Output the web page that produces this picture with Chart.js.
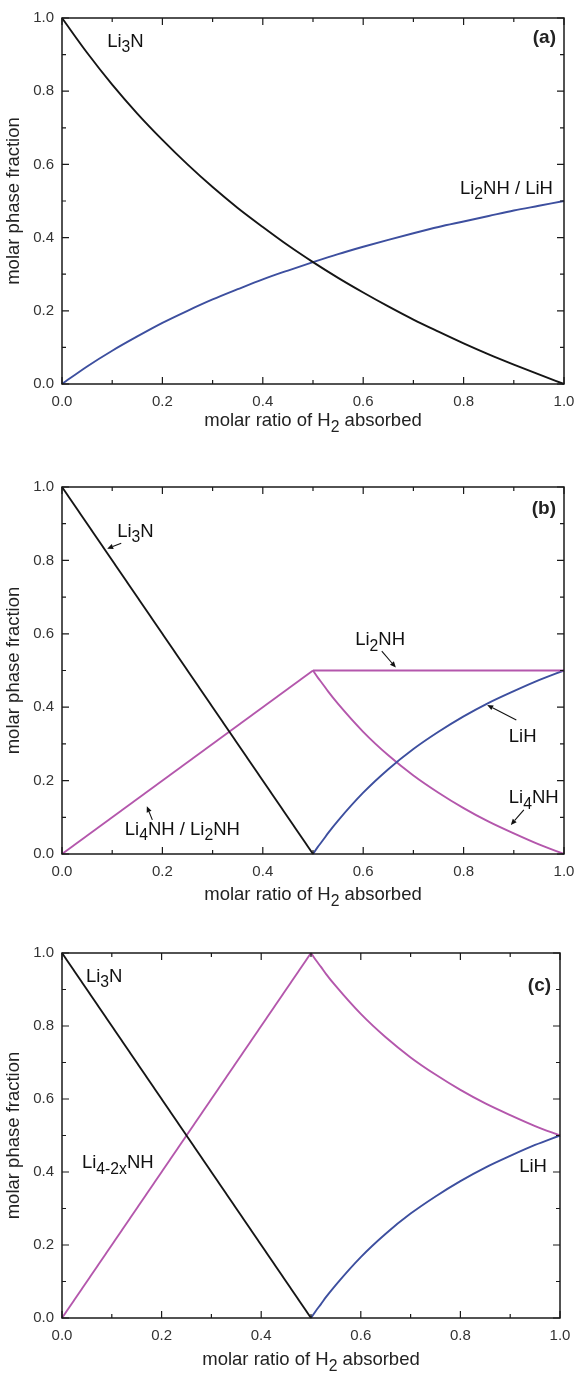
<!DOCTYPE html>
<html><head><meta charset="utf-8">
<script src="https://cdn.jsdelivr.net/npm/chart.js@4.4.1/dist/chart.umd.min.js"></script>
<style>
html,body{margin:0;padding:0;background:#fff;}
body{width:576px;height:1373px;position:relative;overflow:hidden;}
.p{position:absolute;left:0;width:576px;}
canvas{display:block;}
</style></head><body>
<div class="p" style="top:0px;height:450px"><canvas id="ca" width="576" height="450"></canvas></div>
<div class="p" style="top:450px;height:466px"><canvas id="cb" width="576" height="466"></canvas></div>
<div class="p" style="top:916px;height:457px"><canvas id="cc" width="576" height="457"></canvas></div>
<script>
// ---------- tick labels ----------
const xTickVals = [0, 0.2, 0.4, 0.6, 0.8, 1.0];
const xTickLabels = ['0.0', '0.2', '0.4', '0.6', '0.8', '1.0'];
const yTickVals = [0, 0.2, 0.4, 0.6, 0.8, 1.0];
const yTickLabels = ['0.0', '0.2', '0.4', '0.6', '0.8', '1.0'];
const minorTickVals = [0, 0.1, 0.2, 0.3, 0.4, 0.5, 0.6, 0.7, 0.8, 0.9, 1.0];

// ---------- panel (a) ----------
const xA = [0, 0.05, 0.1, 0.15, 0.2, 0.25, 0.3, 0.35, 0.4, 0.45, 0.5, 0.55, 0.6, 0.65, 0.7, 0.75, 0.8, 0.85, 0.9, 0.95, 1.0];
const li3nA = [1.000, 0.905, 0.818, 0.739, 0.667, 0.600, 0.538, 0.481, 0.429, 0.379, 0.333, 0.290, 0.250, 0.212, 0.176, 0.143, 0.111, 0.081, 0.053, 0.026, 0.000];
const li2nhLihA = [0.000, 0.048, 0.091, 0.130, 0.167, 0.200, 0.231, 0.259, 0.286, 0.310, 0.333, 0.355, 0.375, 0.394, 0.412, 0.429, 0.444, 0.459, 0.474, 0.487, 0.500];

// ---------- panel (b) ----------
const xB1 = [0, 0.5];
const li3nB = [1.0, 0.0];
const li4nhLi2nhB = [0.0, 0.5];
const xB2 = [0.5, 1.0];
const li2nhB = [0.5, 0.5];
const xB3 = [0.5, 0.51, 0.52, 0.53, 0.55, 0.6, 0.65, 0.7, 0.75, 0.8, 0.85, 0.9, 0.95, 1.0];
const lihB = [0.000, 0.020, 0.038, 0.057, 0.091, 0.167, 0.231, 0.286, 0.333, 0.375, 0.412, 0.444, 0.474, 0.500];
const li4nhB = [0.500, 0.480, 0.462, 0.443, 0.409, 0.333, 0.269, 0.214, 0.167, 0.125, 0.088, 0.056, 0.026, 0.000];

// ---------- panel (c) ----------
const xC1 = [0, 0.5];
const li3nC = [1.0, 0.0];
const li42xRiseC = [0.0, 1.0];
const xC2 = [0.5, 0.51, 0.52, 0.53, 0.55, 0.6, 0.65, 0.7, 0.75, 0.8, 0.85, 0.9, 0.95, 1.0];
const li42xFallC = [1.000, 0.980, 0.962, 0.943, 0.909, 0.833, 0.769, 0.714, 0.667, 0.625, 0.588, 0.556, 0.526, 0.500];
const lihC = [0.000, 0.020, 0.038, 0.057, 0.091, 0.167, 0.231, 0.286, 0.333, 0.375, 0.412, 0.444, 0.474, 0.500];

// ---------- styles ----------
const FONT = "'Liberation Sans', Arial, Helvetica, sans-serif";
const BLACK = '#151515', BLUE = '#3d4f9f', MAGENTA = '#b457ac';
const TEXT = '#222';

function pts(xs, ys) { return xs.map((x, i) => ({ x: x, y: ys[i] })); }
function ds(xs, ys, color) {
  return { data: pts(xs, ys), borderColor: color, borderWidth: 1.9, pointRadius: 0,
    fill: false, cubicInterpolationMode: 'monotone', clip: 4 };
}

function drawRich(ctx, parts, x, y, size, align, bold) {
  const f = s => (bold ? 'bold ' : '') + s + 'px ' + FONT;
  const SUB = 0.85;
  let w = 0;
  parts.forEach(p => { ctx.font = f(p[1] ? size * SUB : size); w += ctx.measureText(p[0]).width; });
  let cx = align === 'right' ? x - w : align === 'center' ? x - w / 2 : x;
  ctx.textAlign = 'left'; ctx.textBaseline = 'alphabetic';
  parts.forEach(p => {
    const s = p[1] ? size * SUB : size;
    ctx.font = f(s);
    ctx.fillText(p[0], cx, y + (p[1] ? size * 0.3 : 0));
    cx += ctx.measureText(p[0]).width;
  });
}

function drawArrow(ctx, x1, y1, x2, y2) {
  const ang = Math.atan2(y2 - y1, x2 - x1), L = 6, W = 2.6;
  ctx.beginPath(); ctx.moveTo(x1, y1);
  ctx.lineTo(x2 - L * Math.cos(ang), y2 - L * Math.sin(ang)); ctx.stroke();
  ctx.beginPath(); ctx.moveTo(x2, y2);
  ctx.lineTo(x2 - L * Math.cos(ang) + W * Math.sin(ang), y2 - L * Math.sin(ang) - W * Math.cos(ang));
  ctx.lineTo(x2 - L * Math.cos(ang) - W * Math.sin(ang), y2 - L * Math.sin(ang) + W * Math.cos(ang));
  ctx.closePath(); ctx.fill();
}

const framePlugin = {
  id: 'frame',
  afterDraw(chart, args, opts) {
    const { ctx, chartArea: a } = chart;
    const xs = chart.scales.x, ys = chart.scales.y;
    ctx.save();
    ctx.strokeStyle = '#1a1a1a'; ctx.lineWidth = 1.5;
    ctx.strokeRect(a.left, a.top, a.right - a.left, a.bottom - a.top);
    ctx.lineWidth = 1.2;
    minorTickVals.forEach(v => {
      const major = xTickVals.some(t => Math.abs(t - v) < 1e-9);
      const L = major ? 7 : 4;
      const px = xs.getPixelForValue(v), py = ys.getPixelForValue(v);
      ctx.beginPath();
      ctx.moveTo(px, a.bottom); ctx.lineTo(px, a.bottom - L);
      ctx.moveTo(px, a.top); ctx.lineTo(px, a.top + L);
      ctx.moveTo(a.left, py); ctx.lineTo(a.left + L, py);
      ctx.moveTo(a.right, py); ctx.lineTo(a.right - L, py);
      ctx.stroke();
    });
    ctx.fillStyle = TEXT;
    // x title
    drawRich(ctx, [['molar ratio of H'], ['2', 1], [' absorbed']], (a.left + a.right) / 2, a.bottom + opts.xTitleOff, 18.5, 'center');
    // y title
    ctx.save();
    ctx.translate(opts.yTitleX, (a.top + a.bottom) / 2);
    ctx.rotate(-Math.PI / 2);
    ctx.font = '18.5px ' + FONT; ctx.textAlign = 'center'; ctx.textBaseline = 'middle';
    ctx.fillText('molar phase fraction', 0, 0);
    ctx.restore();
    // panel letter
    drawRich(ctx, [[opts.letter]], xs.getPixelForValue(opts.letterPos[0]), ys.getPixelForValue(opts.letterPos[1]), 19, 'right', true);
    // labels
    ctx.fillStyle = '#111';
    opts.labels.forEach(l => drawRich(ctx, l.parts, xs.getPixelForValue(l.at[0]), ys.getPixelForValue(l.at[1]), 18.5, l.align || 'left'));
    ctx.strokeStyle = '#111'; ctx.lineWidth = 1.1;
    (opts.arrows || []).forEach(r => drawArrow(ctx,
      xs.getPixelForValue(r[0]), ys.getPixelForValue(r[1]), xs.getPixelForValue(r[2]), ys.getPixelForValue(r[3])));
    ctx.restore();
  }
};

function makeChart(id, datasets, pad, xH, frameOpts) {
  return new Chart(document.getElementById(id), {
    type: 'line',
    data: { datasets: datasets },
    plugins: [framePlugin],
    options: {
      responsive: false, animation: false, devicePixelRatio: 1, events: [],
      layout: { padding: pad },
      plugins: { legend: { display: false }, tooltip: { enabled: false }, frame: frameOpts },
      scales: {
        x: {
          type: 'linear', min: 0, max: 1,
          afterBuildTicks: s => { s.ticks = xTickVals.map(v => ({ value: v })); },
          afterFit: s => { s.height = xH; s.paddingLeft = 0; s.paddingRight = 0; },
          ticks: { callback: (v, i) => xTickLabels[i], padding: 9, color: '#333', maxRotation: 0, autoSkip: false,
            font: { family: FONT, size: 15 } },
          grid: { display: false, drawTicks: false }, border: { display: false }
        },
        y: {
          type: 'linear', min: 0, max: 1,
          afterBuildTicks: s => { s.ticks = yTickVals.map(v => ({ value: v })); },
          afterFit: s => { s.width = 62; s.paddingTop = 0; s.paddingBottom = 0; },
          ticks: { callback: (v, i) => yTickLabels[i], padding: 8, color: '#333', autoSkip: false,
            font: { family: FONT, size: 15 } },
          grid: { display: false, drawTicks: false }, border: { display: false }
        }
      }
    }
  });
}

// panel (a): chart area 62..564 x 18..384
makeChart('ca', [ds(xA, li3nA, BLACK), ds(xA, li2nhLihA, BLUE)],
  { left: 0, top: 18, right: 12, bottom: 26 }, 40,
  { letter: '(a)', letterPos: [0.984, 0.932], xTitleOff: 42, yTitleX: 14,
    labels: [
      { parts: [['Li'], ['3', 1], ['N']], at: [0.09, 0.921] },
      { parts: [['Li'], ['2', 1], ['NH / LiH']], at: [0.978, 0.52], align: 'right' }
    ] });

// panel (b): chart area 62..564 x 487..854
makeChart('cb', [ds(xB1, li3nB, BLACK), ds(xB1, li4nhLi2nhB, MAGENTA), ds(xB2, li2nhB, MAGENTA),
  ds(xB3, lihB, BLUE), ds(xB3, li4nhB, MAGENTA)],
  { left: 0, top: 37, right: 12, bottom: 22 }, 40,
  { letter: '(b)', letterPos: [0.984, 0.926], xTitleOff: 46, yTitleX: 14,
    labels: [
      { parts: [['Li'], ['3', 1], ['N']], at: [0.11, 0.864] },
      { parts: [['Li'], ['2', 1], ['NH']], at: [0.584, 0.569] },
      { parts: [['LiH']], at: [0.89, 0.305] },
      { parts: [['Li'], ['4', 1], ['NH']], at: [0.89, 0.139] },
      { parts: [['Li'], ['4', 1], ['NH / Li'], ['2', 1], ['NH']], at: [0.125, 0.052] }
    ],
    arrows: [
      [0.118, 0.847, 0.090, 0.832],
      [0.637, 0.553, 0.665, 0.508],
      [0.905, 0.365, 0.847, 0.406],
      [0.920, 0.120, 0.894, 0.079],
      [0.180, 0.093, 0.169, 0.130]
    ] });

// panel (c): chart area 62..560 x 953..1318
makeChart('cc', [ds(xC1, li3nC, BLACK), ds(xC1, li42xRiseC, MAGENTA), ds(xC2, li42xFallC, MAGENTA),
  ds(xC2, lihC, BLUE)],
  { left: 0, top: 37, right: 16, bottom: 15 }, 40,
  { letter: '(c)', letterPos: [0.982, 0.896], xTitleOff: 47, yTitleX: 14,
    labels: [
      { parts: [['Li'], ['3', 1], ['N']], at: [0.048, 0.921] },
      { parts: [['Li'], ['4-2x', 1], ['NH']], at: [0.04, 0.411] },
      { parts: [['LiH']], at: [0.918, 0.40] }
    ] });
</script>
</body></html>
